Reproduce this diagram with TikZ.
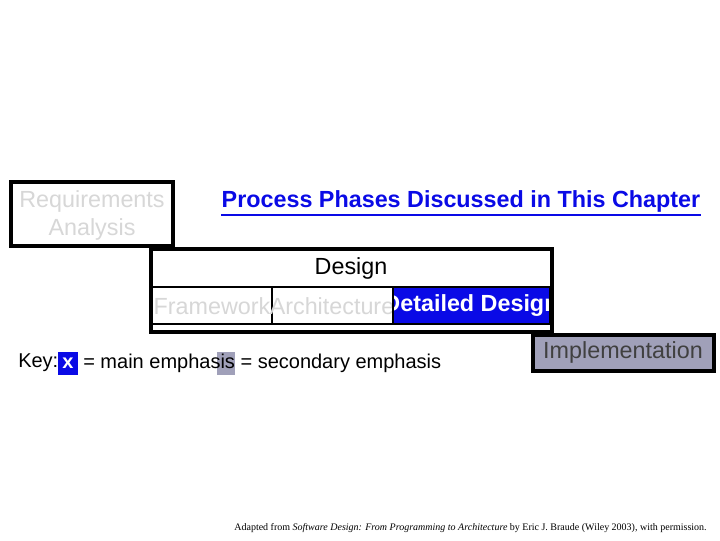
\documentclass[tikz,border=0pt]{standalone}
\usepackage{fontspec}
\setmainfont{Liberation Sans}
\newfontfamily\serifx{Liberation Serif}
\definecolor{mblue}{RGB}{10,10,230}
\definecolor{lgray}{RGB}{215,215,215}
\definecolor{sgray}{RGB}{160,160,185}
\begin{document}
\begin{tikzpicture}[x=0.75pt,y=-0.75pt,
  frame/.style={draw=black,line width=3pt},
  cell/.style={draw=black,line width=2pt},
  big/.style={font=\fontsize{17.5}{21}\selectfont,inner sep=0pt},
  ghost/.style={big,text=lgray}]
\useasboundingbox (0,0) rectangle (720,540);
\fill[white] (0,0) rectangle (720,540);
\draw[frame] (11,182) rectangle (173,246);
\node[ghost,align=center] (req) at (92,215) {Requirements\\Analysis};
\node[text=mblue,font=\bfseries\fontsize{17.5}{21}\selectfont,inner sep=0pt] (title) at (461,201) {Process Phases Discussed in This Chapter};
\draw[mblue,line width=1.2pt] ([yshift=-2pt]title.south west) -- ([yshift=-2pt]title.south east);
\draw[frame,fill=white] (151,249) rectangle (552,332);
\node[big] (design) at (351,268) {Design};
\draw[cell] (152,287) rectangle (272,324);
\node[ghost] (fw) at (212,306) {Framework};
\draw[cell] (272,287) rectangle (393,324);
\node[ghost] (arch) at (332,306) {Architecture};
\fill[mblue] (393,287) rectangle (550,324);
\begin{scope}
\clip (393,287) rectangle (550,324);
\node[text=white,font=\bfseries\fontsize{17.5}{21}\selectfont,inner sep=0pt] (dd) at (471,306) {Detailed Design};
\end{scope}
\draw[cell] (393,287) rectangle (550,324);
\draw[frame,fill=sgray] (533,335) rectangle (714,371);
\node[big,text=black!75] (impl) at (623,352) {Implementation};
\fill[mblue] (58,352) rectangle (78,375);
\fill[sgray] (217,352) rectangle (235,375);
\node[anchor=west,font=\fontsize{15}{18}\selectfont,inner sep=0pt] (key) at (18,363) {Key:};
\node[text=white,font=\bfseries\fontsize{15}{18}\selectfont,inner sep=0pt] (kx) at (68,363) {x};
\node[anchor=west,font=\fontsize{15}{18}\selectfont,inner sep=0pt] (ktext) at (83,363) {= main emphasis = secondary emphasis};
\node[anchor=east,font=\serifx\fontsize{7.5}{9}\selectfont,inner sep=0pt] (foot) at (707,528) {Adapted from \textit{Software Design: From Programming to Architecture} by Eric J. Braude (Wiley 2003), with permission.};
\end{tikzpicture}
\end{document}
